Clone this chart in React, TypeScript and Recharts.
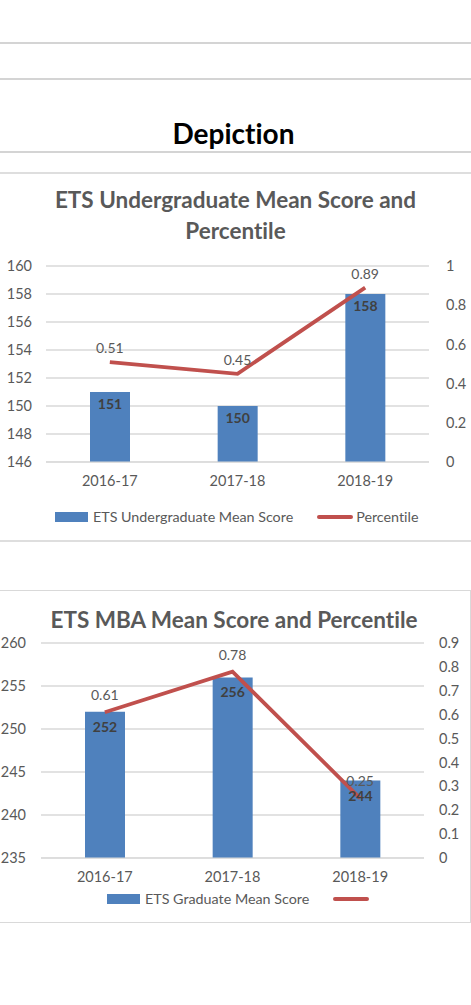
import React from 'react'
import { ComposedChart, Bar, Line, XAxis, YAxis, CartesianGrid, LabelList } from 'recharts'

const years = ['2016-17', '2017-18', '2018-19']
const ugScores = [151, 150, 158]
const ugPercentiles = [0.51, 0.45, 0.89]
const mbaScores = [252, 256, 244]
const mbaPercentiles = [0.61, 0.78, 0.25]

const ugScoreTicks = [146, 148, 150, 152, 154, 156, 158, 160]
const ugPctTicks = [0, 0.2, 0.4, 0.6, 0.8, 1]
const mbaScoreTicks = [235, 240, 245, 250, 255, 260]
const mbaPctTicks = [0, 0.1, 0.2, 0.3, 0.4, 0.5, 0.6, 0.7, 0.8, 0.9]

const ugData = years.map((year, i) => ({ year, score: ugScores[i], pct: ugPercentiles[i] }))
const mbaData = years.map((year, i) => ({ year, score: mbaScores[i], pct: mbaPercentiles[i] }))

const FONT = 'Lato, "Open Sans", sans-serif'
const BLUE = '#4F81BD'
const RED = '#C0504D'
const GREY = '#595959'
const GRID = '#D9D9D9'

const tickStyle = { fill: GREY, fontSize: 14.5, fontFamily: FONT }

const hLine = (top: number, color = '#D4D4D4', h = 2) => (
  <div style={{ position: 'absolute', left: 0, top: top - h / 2, width: 471, height: h, background: color }} />
)

const LegendItem = ({ kind, text }: { kind: 'bar' | 'line'; text: string }) => (
  <span style={{ display: 'inline-flex', alignItems: 'center', marginRight: 24 }}>
    {kind === 'bar' ? (
      <span style={{ display: 'inline-block', width: 33, height: 10, background: BLUE, marginRight: 5 }} />
    ) : (
      <span style={{ display: 'inline-block', width: 36, height: 4, borderRadius: 2, background: RED, marginRight: 3 }} />
    )}
    {text && <span>{text}</span>}
  </span>
)

const App = () => {
  return (
    <div style={{ position: 'absolute', left: 0, top: 0, width: 471, height: 1005, background: '#fff', fontFamily: FONT, overflow: 'hidden', fontVariantLigatures: 'none' }}>
      {hLine(43)}
      {hLine(79)}
      {hLine(152)}
      {hLine(173, '#DEDEDE', 1.5)}
      {hLine(541, '#DEDEDE', 1.5)}

      <div style={{ position: 'absolute', left: 0, top: 115, width: 467, textAlign: 'center', fontSize: 28, fontWeight: 700, color: '#000', lineHeight: '36px' }}>
        Depiction
      </div>

      <div style={{ position: 'absolute', left: 0, top: 184, width: 471, textAlign: 'center', fontSize: 22.5, fontWeight: 700, color: GREY, lineHeight: '31px' }}>
        ETS Undergraduate Mean Score and
        <br />
        Percentile
      </div>

      <div style={{ position: 'absolute', left: 0, top: 250 }}>
        <ComposedChart width={471} height={250} data={ugData} margin={{ top: 16, right: 0, bottom: 0, left: 0 }}>
          <CartesianGrid yAxisId="left" vertical={false} stroke={GRID} strokeWidth={1.5} />
          <XAxis dataKey="year" tick={tickStyle} tickLine={false} axisLine={{ stroke: GRID }} tickMargin={8} height={38} />
          <YAxis yAxisId="left" domain={[146, 160]} ticks={ugScoreTicks} tick={tickStyle} tickLine={false} axisLine={false} width={46} tickMargin={8} />
          <YAxis yAxisId="right" orientation="right" domain={[0, 1]} ticks={ugPctTicks} tick={{ ...tickStyle, textAnchor: 'start' }} tickLine={false} axisLine={false} width={42} tickMargin={11} />
          <Bar yAxisId="left" dataKey="score" fill={BLUE} barSize={40} isAnimationActive={false}>
            <LabelList dataKey="score" position="insideTop" offset={7} fill="#404040" fontSize={14} fontWeight={700} fontFamily={FONT} />
          </Bar>
          <Line yAxisId="right" dataKey="pct" stroke={RED} strokeWidth={3.8} dot={false} type="linear" isAnimationActive={false}>
            <LabelList dataKey="pct" position="top" offset={9} fill={GREY} fontSize={14} fontFamily={FONT} />
          </Line>
        </ComposedChart>
      </div>

      <div style={{ position: 'absolute', left: 55, top: 508, fontSize: 14.3, color: GREY, display: 'flex', alignItems: 'center', whiteSpace: 'nowrap' }}>
        <LegendItem kind="bar" text="ETS Undergraduate Mean Score" />
        <LegendItem kind="line" text="Percentile" />
      </div>

      <div style={{ position: 'absolute', left: -2, top: 590, width: 473, height: 333, boxSizing: 'border-box', border: '1.5px solid #D9D9D9' }} />

      <div style={{ position: 'absolute', left: 0, top: 605, width: 468, textAlign: 'center', fontSize: 22.5, fontWeight: 700, color: GREY, lineHeight: '30px' }}>
        ETS MBA Mean Score and Percentile
      </div>

      <div style={{ position: 'absolute', left: 0, top: 627 }}>
        <ComposedChart width={471} height={260} data={mbaData} margin={{ top: 16, right: 0, bottom: 0, left: 0 }}>
          <CartesianGrid yAxisId="left" vertical={false} stroke={GRID} strokeWidth={1.5} />
          <XAxis dataKey="year" tick={tickStyle} tickLine={false} axisLine={{ stroke: GRID }} tickMargin={8} height={29} />
          <YAxis yAxisId="left" domain={[235, 260]} ticks={mbaScoreTicks} tick={tickStyle} tickLine={false} axisLine={false} width={41} tickMargin={9} />
          <YAxis yAxisId="right" orientation="right" domain={[0, 0.9]} ticks={mbaPctTicks} tick={{ ...tickStyle, textAnchor: 'start' }} tickLine={false} axisLine={false} width={47} tickMargin={9} />
          <Bar yAxisId="left" dataKey="score" fill={BLUE} barSize={40} isAnimationActive={false}>
            <LabelList dataKey="score" position="insideTop" offset={10} fill="#404040" fontSize={14} fontWeight={700} fontFamily={FONT} />
          </Bar>
          <Line yAxisId="right" dataKey="pct" stroke={RED} strokeWidth={3.8} dot={false} type="linear" isAnimationActive={false}>
            <LabelList dataKey="pct" position="top" offset={12} fill={GREY} fontSize={14} fontFamily={FONT} />
          </Line>
        </ComposedChart>
      </div>

      <div style={{ position: 'absolute', left: 107, top: 890, fontSize: 14.3, color: GREY, display: 'flex', alignItems: 'center', whiteSpace: 'nowrap' }}>
        <LegendItem kind="bar" text="ETS Graduate Mean Score" />
        <LegendItem kind="line" text="" />
      </div>
    </div>
  )
}

export default App
